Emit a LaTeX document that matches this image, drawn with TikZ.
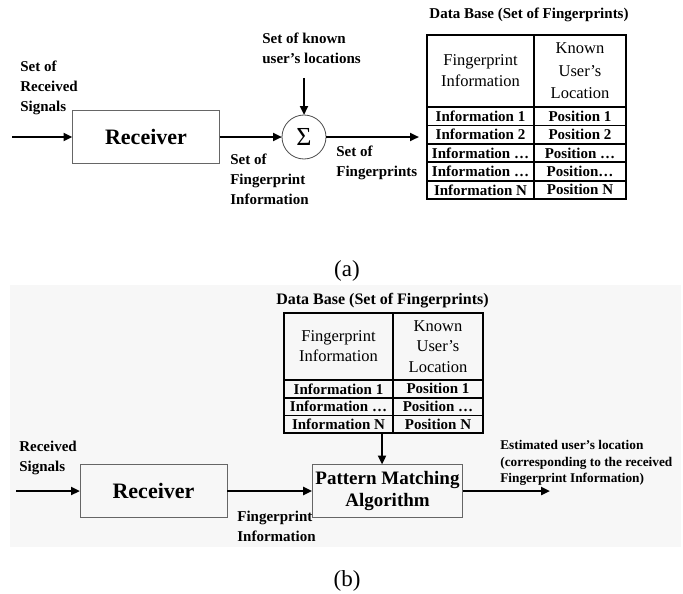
\documentclass[tikz,border=0pt]{standalone}
\usepackage{fontspec}
\setmainfont{Liberation Serif}
\usetikzlibrary{arrows.meta, positioning}
\tikzset{
	>={Triangle[length=9pt,width=8pt]}, % puntas rellenas
	every node/.style={font=\bfseries\fontsize{15}{20}\selectfont, align=left, outer sep=0pt},
	block/.style={draw=black!60, line width=1pt, minimum width=147pt, minimum height=53pt, align=center},
	big/.style={font=\bfseries\fontsize{22}{26}\selectfont},
	flow/.style={->, line width=2.4pt},
	cell/.style={draw, line width=1.8pt, inner sep=0pt, anchor=north west, align=center},
	head/.style={font=\fontsize{16.5}{21}\selectfont},
	caption/.style={font=\fontsize{23}{26}\selectfont}
}

\begin{document}
\begin{tikzpicture}[x=1pt, y=-1pt]
	\useasboundingbox (0,0) rectangle (683,594);
	% fondo del panel (b)
	\fill[black!3] (10,285) rectangle (681,547);

	% ---------- (a) ----------
	\node[block, big] (rxa) at (146,137) {Receiver};
	\node[draw=black!70, line width=0.8pt, circle, minimum size=44pt, inner sep=0pt, font=\fontsize{26}{26}\selectfont] (sum) at (304,137) {Σ};
	\coordinate (ina) at (12,137);
	\coordinate (outa) at (419,137);
	\coordinate (known) at (304,78);
	\draw[flow] (ina) -- (rxa);
	\draw[flow] (rxa) -- (sum);
	\draw[flow] (sum) -- (outa);
	\draw[flow] (known) -- (sum);
	\node[anchor=west] (lsiga) at (17,88) {Set of\\Received\\Signals};
	\node[anchor=west] (lknown) at (259,48) {Set of known\\user's locations};
	\node[anchor=west] (lfpia) at (227,179) {Set of\\Fingerprint\\Information};
	\node[anchor=west] (lfps) at (333,163) {Set of\\Fingerprints};

	\node[font=\bfseries\fontsize{15}{17}\selectfont] (dba) at (529,15) {Data Base (Set of Fingerprints)};
	\node[cell, head, minimum width=107pt, minimum height=72pt] (ha1) at (427,35) {Fingerprint\\Information};
	\node[cell, head, minimum width=92pt, minimum height=72pt, font=\fontsize{16.5}{22.5}\selectfont] (ha2) at (534,35) {Known\\User's\\Location};
	\node[cell, minimum width=107pt, minimum height=18.4pt] (ra11) at (427,107) {Information 1};
	\node[cell, minimum width=92pt, minimum height=18.4pt] (ra12) at (534,107) {Position 1};
	\node[cell, minimum width=107pt, minimum height=18.4pt] (ra21) at (427,125.4) {Information 2};
	\node[cell, minimum width=92pt, minimum height=18.4pt] (ra22) at (534,125.4) {Position 2};
	\node[cell, minimum width=107pt, minimum height=18.4pt] (ra31) at (427,143.8) {Information \dots};
	\node[cell, minimum width=92pt, minimum height=18.4pt] (ra32) at (534,143.8) {Position \dots};
	\node[cell, minimum width=107pt, minimum height=18.4pt] (ra41) at (427,162.2) {Information \dots};
	\node[cell, minimum width=92pt, minimum height=18.4pt] (ra42) at (534,162.2) {Position\dots};
	\node[cell, minimum width=107pt, minimum height=18.4pt] (ra51) at (427,180.6) {Information N};
	\node[cell, minimum width=92pt, minimum height=18.4pt] (ra52) at (534,180.6) {Position N};

	\node[caption] (capa) at (347,271) {(a)};

	% ---------- (b) ----------
	\node[block, big] (rxb) at (153.5,491) {Receiver};
	\node[block, font=\bfseries\fontsize{19}{22}\selectfont] (pm) at (387.5,491) {Pattern Matching\\Algorithm};
	\coordinate (inb) at (16,491);
	\coordinate (outb) at (550,491);
	\coordinate (dbb) at (382,433);
	\draw[flow] (inb) -- (rxb);
	\draw[flow] (rxb) -- (pm);
	\draw[flow] (pm) -- (outb);
	\draw[flow] (dbb) -- (dbb |- pm.north);
	\node[anchor=west] (lsigb) at (16,457.5) {Received\\Signals};
	\node[anchor=west] (lfpib) at (234,526.5) {Fingerprint\\Information};
	\node[anchor=west, font=\bfseries\fontsize{13.3}{16.5}\selectfont] (lest) at (497,463) {Estimated user's location\\(corresponding to the received\\Fingerprint Information)};

	\node[font=\bfseries\fontsize{16}{18}\selectfont] (dbt) at (382.5,301) {Data Base (Set of Fingerprints)};
	\node[cell, head, minimum width=109pt, minimum height=67pt, font=\fontsize{16.5}{20}\selectfont] (hb1) at (284,313) {Fingerprint\\Information};
	\node[cell, head, minimum width=90pt, minimum height=67pt, font=\fontsize{16.5}{20.5}\selectfont] (hb2) at (393,313) {Known\\User's\\Location};
	\node[cell, minimum width=109pt, minimum height=17.7pt] (rb11) at (284,380) {Information 1};
	\node[cell, minimum width=90pt, minimum height=17.7pt] (rb12) at (393,380) {Position 1};
	\node[cell, minimum width=109pt, minimum height=17.7pt] (rb21) at (284,397.7) {Information \dots};
	\node[cell, minimum width=90pt, minimum height=17.7pt] (rb22) at (393,397.7) {Position \dots};
	\node[cell, minimum width=109pt, minimum height=17.7pt] (rb31) at (284,415.4) {Information N};
	\node[cell, minimum width=90pt, minimum height=17.7pt] (rb32) at (393,415.4) {Position N};

	\node[caption] (capb) at (347,581) {(b)};
\end{tikzpicture}
\end{document}
